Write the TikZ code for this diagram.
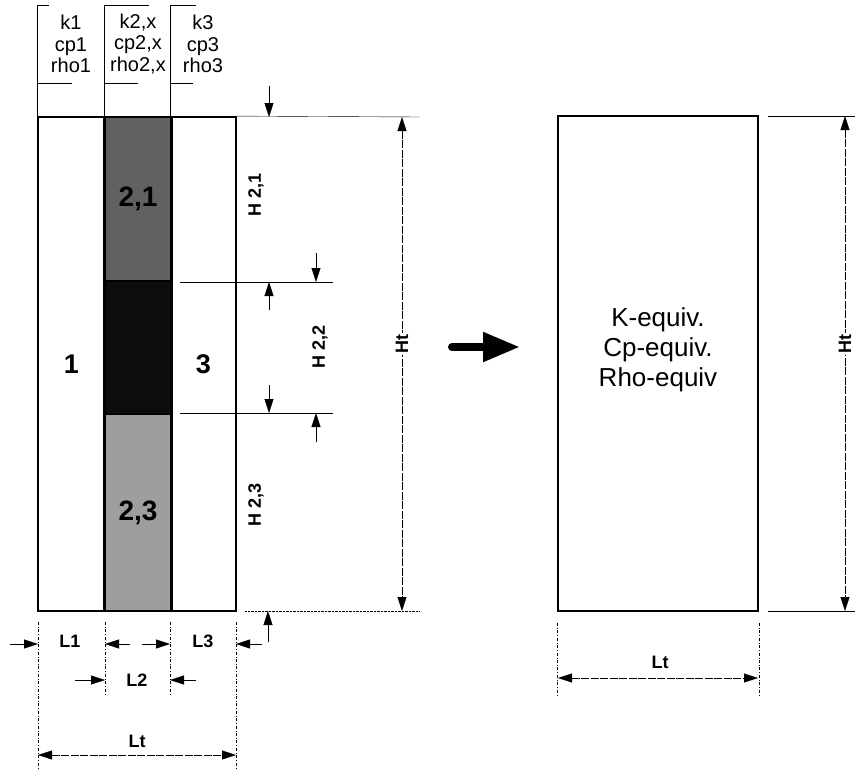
\documentclass[tikz,border=0pt]{standalone}
\usepackage{fontspec}
\setmainfont{Liberation Sans}
\usetikzlibrary{arrows.meta}
\usetikzlibrary{positioning}
\tikzset{x=1pt, y=-1pt, % pixel-like grid, y grows downwards
slab/.style={ % one layer of the wall
draw,
line width=1.8pt,
inner sep=0pt},
extline/.style={ % extension lines
draw,
thin},
dimline/.style={ % dimension lines with two heads
draw,
thin,
dash pattern=on 8pt off 1.5pt,
{Triangle[length=14pt,width=9pt]}-{Triangle[length=14pt,width=9pt]}},
pointer/.style={ % short dimension arrows
draw,
thin,
-{Triangle[length=14pt,width=9pt]}},
prop/.style={font=\fontsize{20}{21.5}\selectfont, align=center},
dimlabel/.style={font=\bfseries\fontsize{18}{18}\selectfont, fill=white, inner sep=1.5pt}}

\begin{document}
\begin{tikzpicture}
\useasboundingbox (0,0) rectangle (855,771);

% wall made of three layers, the middle one split in three
\node[slab, minimum width=67pt, minimum height=494pt, font=\bfseries\fontsize{27}{27}\selectfont] (s1) at (71.5,364) {1};
\node[slab, minimum width=65pt, minimum height=494pt, font=\bfseries\fontsize{27}{27}\selectfont] (s3) at (203.5,364) {3};
\node[slab, fill=black!62, minimum width=66pt, minimum height=164pt, font=\bfseries\fontsize{28}{28}\selectfont] (s21) at (138,199) {2,1};
\node[slab, fill=black!95, minimum width=66pt, minimum height=133pt] (s22) at (138,347.5) {};
\node[slab, fill=black!38, minimum width=66pt, minimum height=197pt, font=\bfseries\fontsize{28}{28}\selectfont] (s23) at (138,512.5) {2,3};
\draw[line width=1.8pt] (s21.north west) -- (s23.south west);
\draw[line width=1.8pt] (s21.north east) -- (s23.south east);

% property labels on top
\node[prop] (p1) at (71,44) {k1\\cp1\\rho1};
\node[prop] (p2) at (138,44) {k2,x\\cp2,x\\rho2,x};
\node[prop] (p3) at (203,44) {k3\\cp3\\rho3};
\draw[extline] (s1.north west) -- ++(0,-111) -- ++(12,0);
\draw[extline] (s21.north west) -- ++(0,-111) -- ++(45,0);
\draw[extline] (s3.north west) -- ++(0,-111) -- ++(26,0);
\draw[extline] (38,83) -- (72,83);
\draw[extline] (105,83) -- (138,83);
\draw[extline] (171,83) -- (193,83);

% heights of the middle layer
\coordinate (t0) at (420,117);
\coordinate (t1) at (180,282);
\coordinate (t2) at (180,413);
\coordinate (t3) at (420,611);
\draw[extline] (s3.north east) -- (t0);
\draw[extline] (t1) -- ++(153,0);
\draw[extline] (t2) -- ++(153,0);
\draw[extline, densely dotted] (245,611) -- (t3);
\draw[pointer] (269,86) -- (269,117);
\draw[pointer] (269,310) -- (269,282);
\draw[pointer] (316,253) -- (316,282);
\draw[pointer] (269,385) -- (269,413);
\draw[pointer] (316,442) -- (316,413);
\draw[pointer] (268,642) -- (268,611);
\node[dimlabel, rotate=90] (h21) at (256,195) {H 2,1};
\node[dimlabel, rotate=90] (h22) at (320,347) {H 2,2};
\node[dimlabel, rotate=90] (h23) at (256,505) {H 2,3};

% total height
\coordinate (ha) at (402,117);
\coordinate (hb) at (402,611);
\draw[dimline] (ha) -- node[dimlabel, rotate=90, pos=0.46] (ht) {Ht} (hb);

% widths
\draw[extline, dash dot] (38,622) -- (38,770);
\draw[extline, dash dot] (105,622) -- (105,695);
\draw[extline, dash dot] (170,622) -- (170,695);
\draw[extline, dash dot] (236,622) -- (236,770);
\draw[pointer] (10,644) -- (38,644);
\draw[pointer] (130,644) -- (105,644);
\draw[pointer] (142,644) -- (170,644);
\draw[pointer] (262,644) -- (236,644);
\draw[pointer] (75,680) -- (105,680);
\draw[pointer] (196,680) -- (170,680);
\node[dimlabel] (l1) at (70,641) {L1};
\node[dimlabel] (l3) at (203,641) {L3};
\node[dimlabel] (l2) at (137,680) {L2};
\coordinate (la) at (38,755);
\coordinate (lb) at (236,755);
\draw[dimline] (la) -- (lb);
\node[dimlabel] (lt) at (137,741) {Lt};

% big arrow
\coordinate (go) at (452,347);
\coordinate (to) at (520,347);
\draw[line width=8pt, line cap=round, -{Triangle[length=37pt,width=28pt]}] (go) -- (to);

% equivalent wall
\node[slab, minimum width=200pt, minimum height=495pt] (eq) at (658,363.5) {};
\node[align=center, font=\fontsize{26}{30}\selectfont] (eqtext) at (658,350) {K-equiv.\\Cp-equiv.\\Rho-equiv};
\coordinate (ea) at (845,116);
\coordinate (eb) at (845,611);
\draw[extline] (768,116) -- (855,116);
\draw[extline] (768,611) -- (855,611);
\draw[dimline] (ea) -- node[dimlabel, rotate=90, pos=0.46] (ht2) {Ht} (eb);
\draw[extline, dash dot] (eq.south west) ++(0,11) -- ++(0,73);
\draw[extline, dash dot] (eq.south east) ++(0,11) -- ++(0,73);
\coordinate (ma) at (558,678);
\coordinate (mb) at (758,678);
\draw[dimline] (ma) -- (mb);
\node[dimlabel] (lt2) at (660,662) {Lt};
\end{tikzpicture}
\end{document}
